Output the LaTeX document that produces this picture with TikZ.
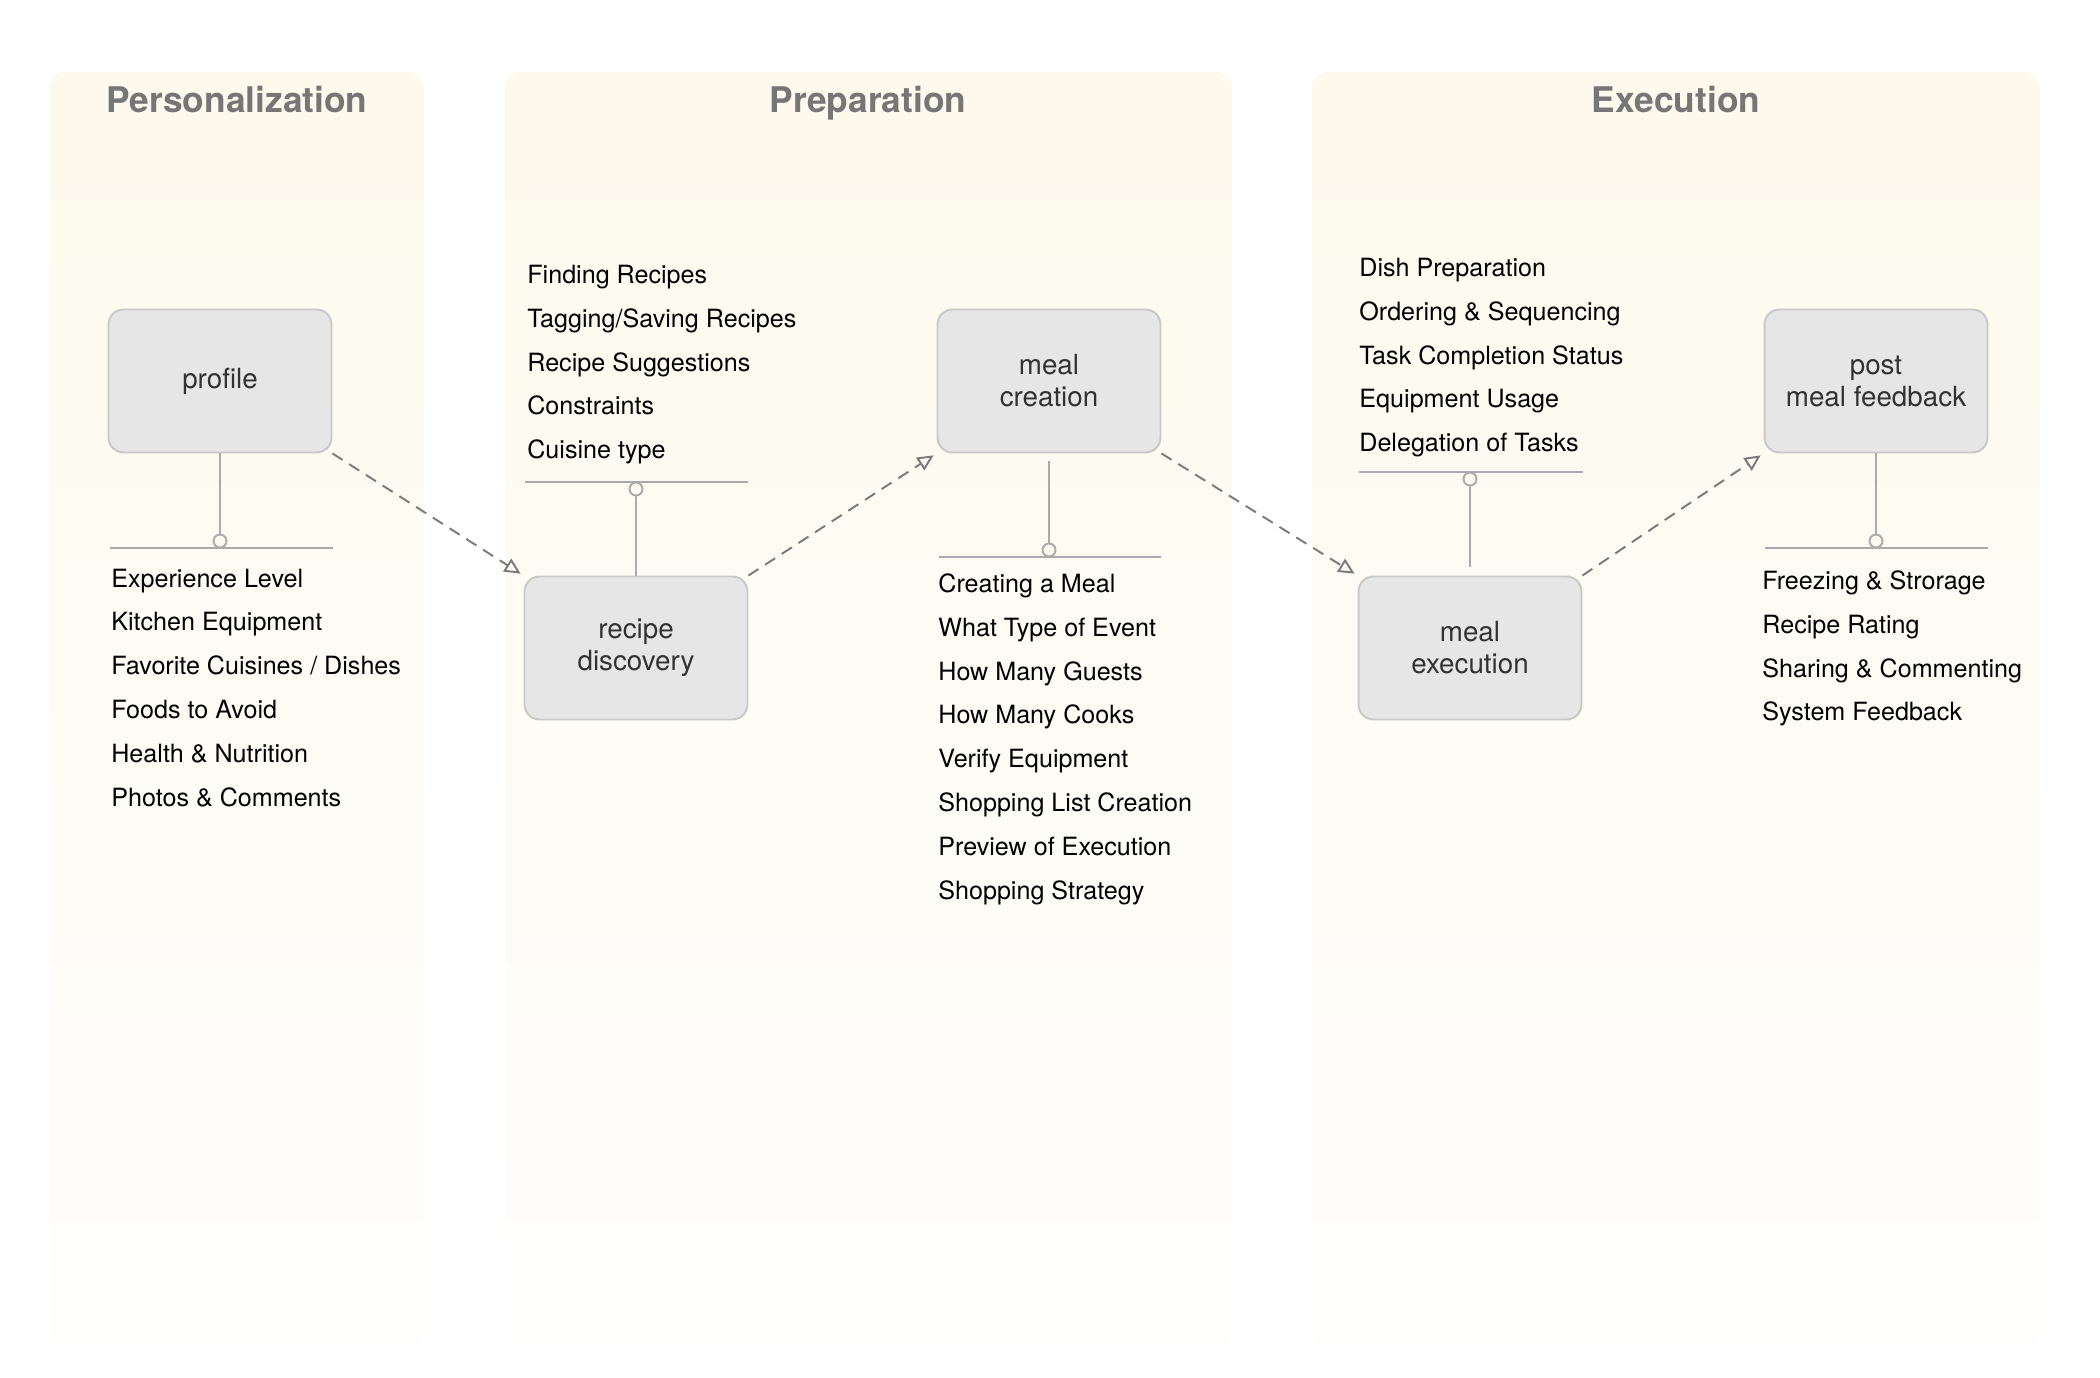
\documentclass[tikz,border=0pt]{standalone}
\usepackage{fontspec}
\setmainfont{TeX Gyre Heros}
\usepackage{tikz}
\usetikzlibrary{positioning,calc,arrows.meta}
\definecolor{lanetop}{RGB}{253,249,236}
\definecolor{lanebot}{RGB}{254,254,253}
\definecolor{boxfill}{RGB}{230,230,230}
\definecolor{boxline}{RGB}{200,200,200}
\definecolor{linkgray}{RGB}{170,170,170}
\definecolor{flowgray}{RGB}{122,122,122}
\definecolor{titlegray}{RGB}{118,118,118}
\definecolor{boxtext}{RGB}{50,50,50}

\begin{document}
\begin{tikzpicture}[
	x=0.02cm, y=-0.02cm,
	lane/.style={ % column background
		top color=lanetop, bottom color=lanebot,
		rounded corners=0.3cm
	},
	lanetitle/.style={ % column heading
		anchor=base, inner sep=0pt,
		font=\fontsize{20.1}{22}\selectfont\bfseries,
		text=titlegray
	},
	stage/.style={ % grey rounded box
		draw=boxline, fill=boxfill, line width=1.1pt,
		rounded corners=0.3cm,
		minimum width=4.46cm, minimum height=2.86cm,
		align=center, text=boxtext,
		font=\fontsize{15.8}{18.2}\selectfont
	},
	item/.style={ % one line of a list
		anchor=base west, inner sep=0pt,
		font=\fontsize{14.3}{17}\selectfont
	},
	bar/.style={linkgray, line width=1.1pt},
	link/.style={linkgray, line width=1.1pt},
	hub/.style={ % small open circle on a bar
		circle, draw=linkgray, fill=lanetop, line width=1.1pt,
		inner sep=0pt, minimum size=0.26cm
	},
	flow/.style={ % dashed step arrow
		-{Triangle[open, length=0.32cm, width=0.3cm]},
		flowgray, line width=1.1pt,
		dash pattern=on 6.8pt off 4.5pt,
		shorten >=2pt
	}
	]
	\useasboundingbox (0,0) rectangle (2100,1378);
	
	% ================= LANES =================
	\path[lane] (50,72) rectangle (424,1347);
	\path[lane] (505,72) rectangle (1232,1347);
	\path[lane] (1312,72) rectangle (2040,1347);
	\node[lanetitle] (t-pers) at (237,113) {Personalization};
	\node[lanetitle] (t-prep) at (868,113) {Preparation};
	\node[lanetitle] (t-exec) at (1676,113) {Execution};
	
	% ================= BOXES =================
	\node[stage] (profile)   at (220,381)  {profile};
	\node[stage] (discovery) at (636,648)  {recipe\\discovery};
	\node[stage] (creation)  at (1049,381) {meal\\creation};
	\node[stage] (execution) at (1470,648) {meal\\execution};
	\node[stage] (feedback)  at (1876,381) {post\\meal feedback};
	
	% ================= PROFILE (list below) =================
	\coordinate (pb-l) at (110,548);
	\coordinate (pb-r) at (333,548);
	\draw[bar] (pb-l) -- (pb-r);
	\node[hub] (pb-o) at (220,541) {};
	\draw[link] (profile) -- (pb-o);
	\foreach \txt [count=\j] in {Experience Level, Kitchen Equipment,
		Favorite Cuisines / Dishes, Foods to Avoid, Health \& Nutrition,
		Photos \& Comments} {
		\node[item] (pl-\j) at (111, {587+43.8*(\j-1)}) {\txt};
	}
	
	% ================= RECIPE DISCOVERY (list above) =================
	\coordinate (db-l) at (525,482);
	\coordinate (db-r) at (748,482);
	\draw[bar] (db-l) -- (db-r);
	\node[hub] (db-o) at (636,489) {};
	\draw[link] (db-o) -- (discovery);
	\foreach \txt [count=\j] in {Finding Recipes, Tagging/Saving Recipes,
		Recipe Suggestions, Constraints, Cuisine type} {
		\node[item] (dl-\j) at (527, {283.5+43.8*(\j-1)}) {\txt};
	}
	
	% ================= MEAL CREATION (list below) =================
	\coordinate (cb-l) at (939,557);
	\coordinate (cb-r) at (1161,557);
	\draw[bar] (cb-l) -- (cb-r);
	\node[hub] (cb-o) at (1049,550) {};
	\draw[link, shorten <=0.16cm] (creation) -- (cb-o);
	\foreach \txt [count=\j] in {Creating a Meal, What Type of Event,
		How Many Guests, How Many Cooks, Verify Equipment,
		Shopping List Creation, Preview of Execution, Shopping Strategy} {
		\node[item] (cl-\j) at (938, {592.5+43.8*(\j-1)}) {\txt};
	}
	
	% ================= MEAL EXECUTION (list above) =================
	\coordinate (eb-l) at (1359,472);
	\coordinate (eb-r) at (1583,472);
	\draw[bar] (eb-l) -- (eb-r);
	\node[hub] (eb-o) at (1470,479) {};
	\draw[link, shorten >=0.18cm] (eb-o) -- (execution);
	\foreach \txt [count=\j] in {Dish Preparation, Ordering \& Sequencing,
		Task Completion Status, Equipment Usage, Delegation of Tasks} {
		\node[item] (el-\j) at (1359, {276.5+43.8*(\j-1)}) {\txt};
	}
	
	% ================= POST MEAL FEEDBACK (list below) =================
	\coordinate (fb-l) at (1765,548);
	\coordinate (fb-r) at (1988,548);
	\draw[bar] (fb-l) -- (fb-r);
	\node[hub] (fb-o) at (1876,541) {};
	\draw[link] (feedback) -- (fb-o);
	\foreach \txt [count=\j] in {Freezing \& Strorage, Recipe Rating,
		Sharing \& Commenting, System Feedback} {
		\node[item] (fl-\j) at (1762, {589.5+43.8*(\j-1)}) {\txt};
	}
	
	% ================= STEP ARROWS =================
	\draw[flow] (profile.south east) -- (discovery.north west);
	\draw[flow] (discovery.north east) -- (creation.south west);
	\draw[flow] (creation.south east) -- (execution.north west);
	\draw[flow] (execution.north east) -- (feedback.south west);
	
\end{tikzpicture}
\end{document}
